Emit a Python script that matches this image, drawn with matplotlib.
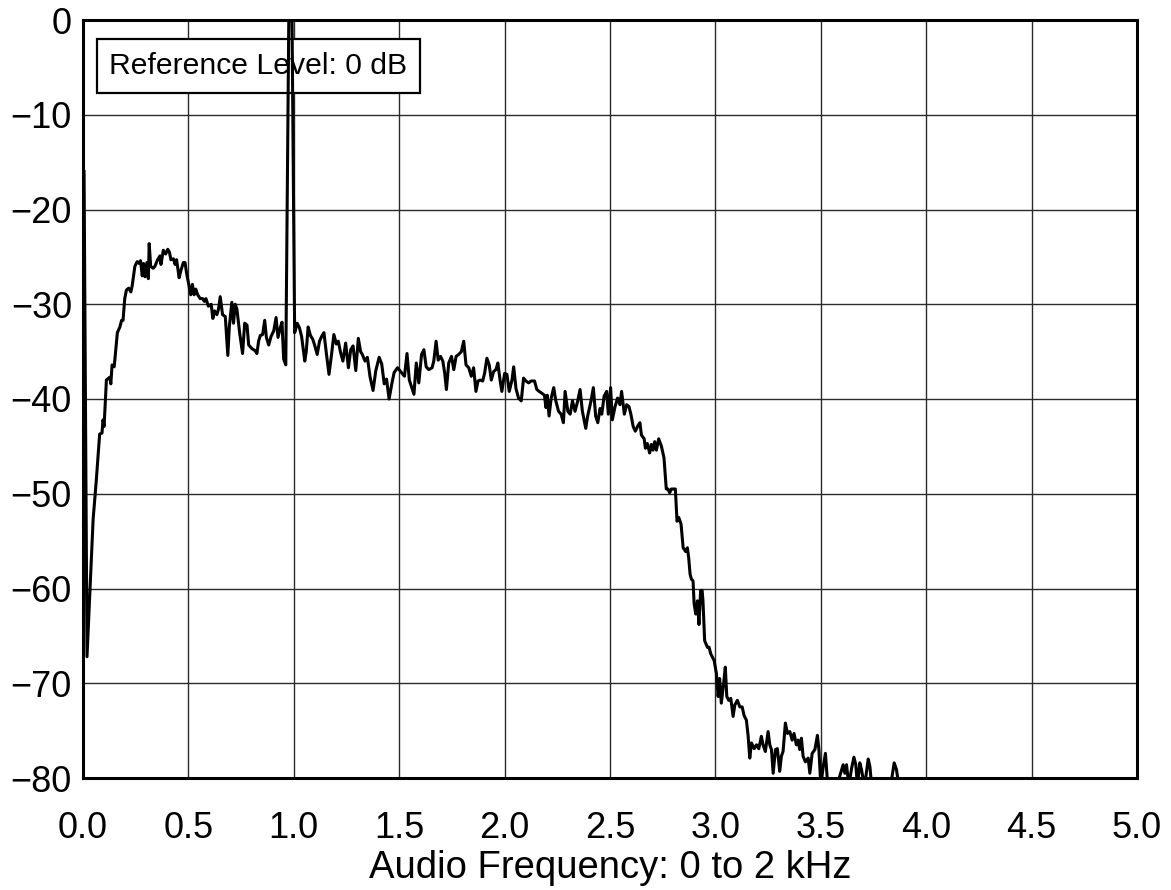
import matplotlib
matplotlib.use("Agg")
import matplotlib.pyplot as plt
from matplotlib.patches import Rectangle

plt.rcParams['font.family'] = ['Liberation Sans', 'DejaVu Sans']

freq = [0.005, 0.019, 0.048, 0.063, 0.079, 0.090, 0.095, 0.100, 0.111, 0.127,
        0.132, 0.138, 0.148, 0.163, 0.175, 0.183, 0.190, 0.198, 0.206, 0.217,
        0.227, 0.233, 0.246, 0.257, 0.267, 0.273, 0.281, 0.287, 0.294, 0.303,
        0.310, 0.314, 0.321, 0.333, 0.341, 0.354, 0.365, 0.370, 0.381, 0.392,
        0.402, 0.410, 0.417, 0.429, 0.437, 0.444, 0.456, 0.465, 0.476, 0.484,
        0.492, 0.500, 0.511, 0.519, 0.527, 0.535, 0.544, 0.556, 0.567, 0.576,
        0.583, 0.595, 0.608, 0.616, 0.624, 0.635, 0.643, 0.651, 0.662, 0.675,
        0.687, 0.694, 0.706, 0.714, 0.722, 0.730, 0.743, 0.757, 0.767, 0.778,
        0.786, 0.802, 0.817, 0.825, 0.833, 0.841, 0.852, 0.862, 0.870, 0.881,
        0.892, 0.905, 0.916, 0.925, 0.937, 0.944, 0.952, 0.962, 0.984, 1.004,
        1.016, 1.027, 1.037, 1.052, 1.059, 1.068, 1.079, 1.090, 1.100, 1.111,
        1.122, 1.132, 1.143, 1.154, 1.167, 1.179, 1.190, 1.202, 1.211, 1.222,
        1.233, 1.246, 1.259, 1.270, 1.281, 1.294, 1.306, 1.317, 1.325, 1.338,
        1.349, 1.362, 1.376, 1.389, 1.405, 1.417, 1.429, 1.440, 1.452, 1.465,
        1.476, 1.492, 1.503, 1.514, 1.525, 1.537, 1.548, 1.570, 1.581, 1.593,
        1.606, 1.617, 1.628, 1.640, 1.656, 1.664, 1.675, 1.685, 1.696, 1.707,
        1.716, 1.724, 1.735, 1.748, 1.759, 1.770, 1.782, 1.795, 1.806, 1.817,
        1.830, 1.842, 1.853, 1.864, 1.874, 1.885, 1.896, 1.905, 1.916, 1.927,
        1.937, 1.948, 1.959, 1.968, 1.979, 1.987, 2.000, 2.011, 2.022, 2.035,
        2.043, 2.054, 2.066, 2.079, 2.090, 2.101, 2.114, 2.126, 2.142, 2.153,
        2.164, 2.177, 2.189, 2.196, 2.202, 2.211, 2.221, 2.233, 2.243, 2.256,
        2.268, 2.279, 2.287, 2.300, 2.311, 2.322, 2.334, 2.347, 2.358, 2.369,
        2.385, 2.394, 2.410, 2.421, 2.432, 2.442, 2.453, 2.461, 2.472, 2.484,
        2.492, 2.503, 2.511, 2.524, 2.536, 2.547, 2.555, 2.568, 2.579, 2.590,
        2.599, 2.610, 2.620, 2.633, 2.642, 2.649, 2.662, 2.668, 2.677, 2.688,
        2.696, 2.704, 2.712, 2.720, 2.731, 2.744, 2.756, 2.767, 2.775, 2.783,
        2.791, 2.804, 2.810, 2.818, 2.826, 2.837, 2.847, 2.859, 2.867, 2.873,
        2.880, 2.886, 2.894, 2.899, 2.907, 2.915, 2.922, 2.930, 2.937, 2.941,
        2.949, 2.962, 2.970, 2.978, 2.994, 3.005, 3.013, 3.020, 3.028, 3.039,
        3.047, 3.054, 3.063, 3.073, 3.084, 3.092, 3.104, 3.116, 3.127, 3.136,
        3.147, 3.155, 3.163, 3.171, 3.184, 3.195, 3.206, 3.218, 3.226, 3.237,
        3.250, 3.258, 3.266, 3.274, 3.285, 3.294, 3.305, 3.313, 3.321, 3.332,
        3.342, 3.353, 3.364, 3.373, 3.384, 3.392, 3.400, 3.408, 3.416, 3.427,
        3.440, 3.448, 3.459, 3.472, 3.484, 3.491, 3.500, 3.511, 3.522, 3.532,
        3.543, 3.554, 3.566, 3.579, 3.590, 3.606, 3.614, 3.622, 3.633, 3.646,
        3.657, 3.666, 3.674, 3.685, 3.693, 3.706, 3.714, 3.725, 3.733, 3.741,
        3.760, 3.790, 3.820, 3.848, 3.859, 3.870, 3.890]

level_db = [-16.0, -67.2, -52.7, -48.6, -43.7, -43.6, -42.2, -42.9, -38.0, -37.7,
            -38.4, -36.4, -36.6, -33.0, -32.4, -31.7, -31.7, -29.4, -28.5, -28.3,
            -28.7, -28.1, -26.0, -25.5, -25.7, -25.4, -27.0, -25.7, -27.1, -25.6,
            -27.3, -23.6, -26.0, -26.2, -26.0, -25.3, -24.9, -25.8, -24.3, -24.7,
            -24.2, -24.5, -25.3, -25.2, -25.8, -25.3, -27.2, -26.4, -25.6, -25.6,
            -26.8, -27.7, -29.0, -27.9, -29.0, -28.4, -29.0, -29.4, -29.4, -29.7,
            -29.4, -30.2, -30.0, -31.5, -30.7, -31.1, -30.5, -29.2, -31.1, -31.3,
            -35.4, -32.4, -29.8, -32.0, -30.0, -30.5, -33.0, -35.2, -32.0, -32.2,
            -34.3, -34.7, -34.9, -35.2, -33.9, -33.3, -33.2, -31.7, -33.5, -34.3,
            -33.4, -32.8, -31.4, -33.5, -32.4, -31.9, -35.8, -36.4, 20.0, -33.0,
            -32.0, -32.5, -33.4, -36.0, -35.0, -32.4, -33.3, -33.7, -34.4, -35.3,
            -33.9, -33.4, -33.0, -35.1, -37.4, -35.3, -33.2, -34.2, -33.9, -35.1,
            -36.0, -34.1, -36.7, -34.8, -34.4, -37.0, -33.6, -35.0, -35.3, -36.0,
            -35.6, -37.7, -39.1, -37.0, -35.6, -36.3, -38.4, -37.9, -40.0, -38.4,
            -37.2, -36.7, -37.0, -37.3, -37.6, -35.2, -38.0, -39.5, -36.2, -38.3,
            -35.3, -34.8, -36.6, -36.9, -36.7, -36.0, -33.9, -35.9, -35.5, -36.0,
            -37.3, -39.0, -36.2, -35.5, -36.9, -35.5, -35.3, -35.0, -33.9, -36.4,
            -36.7, -37.6, -36.7, -39.2, -38.1, -38.0, -38.1, -37.3, -35.7, -36.4,
            -38.0, -37.1, -36.9, -36.2, -38.1, -39.2, -37.3, -37.4, -39.2, -38.0,
            -36.6, -38.9, -39.9, -40.2, -37.8, -38.1, -38.3, -38.1, -38.1, -39.0,
            -39.2, -39.4, -39.6, -40.9, -39.6, -41.8, -39.9, -38.8, -40.2, -41.3,
            -41.6, -42.5, -39.2, -41.3, -41.6, -40.2, -41.3, -40.2, -39.0, -41.3,
            -43.1, -41.8, -40.2, -38.8, -41.8, -42.5, -41.0, -41.6, -39.7, -39.2,
            -41.6, -38.8, -42.2, -40.8, -39.9, -40.6, -39.2, -41.6, -40.6, -40.8,
            -41.6, -42.9, -43.4, -42.8, -42.5, -43.8, -44.2, -45.2, -44.7, -45.7,
            -44.8, -45.4, -44.5, -45.4, -44.2, -45.0, -46.2, -49.5, -49.5, -49.9,
            -49.5, -49.5, -49.5, -52.9, -52.5, -53.2, -55.7, -56.1, -55.7, -56.7,
            -58.5, -59.0, -59.2, -61.6, -62.7, -61.3, -63.8, -60.2, -60.2, -61.3,
            -65.5, -66.2, -66.2, -66.9, -67.6, -69.0, -71.4, -69.5, -72.1, -70.0,
            -68.3, -71.4, -71.8, -71.6, -73.5, -72.3, -71.8, -72.5, -72.5, -73.4,
            -73.9, -75.5, -77.9, -76.3, -76.9, -76.5, -76.9, -75.6, -76.5, -77.2,
            -75.1, -76.5, -77.0, -79.5, -77.0, -76.9, -79.3, -77.7, -77.2, -74.2,
            -75.3, -75.1, -76.0, -75.3, -76.5, -76.0, -77.0, -75.8, -77.7, -78.3,
            -77.9, -79.5, -77.4, -77.0, -75.5, -77.0, -80.8, -78.9, -77.4, -80.5,
            -80.5, -80.2, -80.3, -80.5, -79.8, -78.6, -79.5, -78.6, -80.8, -79.0,
            -77.8, -78.6, -80.8, -78.4, -79.1, -80.8, -79.8, -78.0, -78.8, -80.8,
            -83.0, -84.0, -82.5, -78.4, -79.1, -80.8, -84.0]

x_ticks = [0.0, 0.5, 1.0, 1.5, 2.0, 2.5, 3.0, 3.5, 4.0, 4.5, 5.0]
x_tick_labels = ["0.0", "0.5", "1.0", "1.5", "2.0", "2.5", "3.0", "3.5", "4.0", "4.5", "5.0"]
y_ticks = [-80, -70, -60, -50, -40, -30, -20, -10, 0]
y_tick_labels = ["\u221280", "\u221270", "\u221260", "\u221250", "\u221240",
                 "\u221230", "\u221220", "\u221210", "0"]
x_label = "Audio Frequency: 0 to 2 kHz"
ref_text = "Reference Level: 0 dB"

fig = plt.figure(figsize=(11.71, 8.90), dpi=100)
ax = fig.add_axes([83/1171, 1 - 778/890, (1137 - 83)/1171, (778 - 20)/890])

ax.plot(freq, level_db, color='black', linewidth=2.2, zorder=3)
ax.set_xlim(0, 5)
ax.set_ylim(-80, 0)
ax.set_xticks(x_ticks)
ax.set_xticklabels(x_tick_labels)
ax.set_yticks(y_ticks)
ax.set_yticklabels(y_tick_labels)
ax.tick_params(axis='both', length=0, labelsize=26)
ax.tick_params(axis='x', pad=23.5)
ax.tick_params(axis='y', pad=8)
ax.grid(True, color='#2a2a2a', linewidth=1.0, zorder=1)
ax.set_axisbelow(True)
for s in ax.spines.values():
    s.set_linewidth(2.2)
    s.set_zorder(4)

ax.set_xlabel(x_label, fontsize=27.5, labelpad=3.5)

ax.add_patch(Rectangle((0.0133, 0.9037), 0.3064, 0.0712, transform=ax.transAxes,
                       facecolor='white', edgecolor='black', linewidth=1.6,
                       zorder=2.5))
ax.text(0.1665, 0.9387, ref_text, transform=ax.transAxes, fontsize=21.7,
        ha='center', va='center', zorder=2.6)

fig.savefig("out.png", dpi=100)
